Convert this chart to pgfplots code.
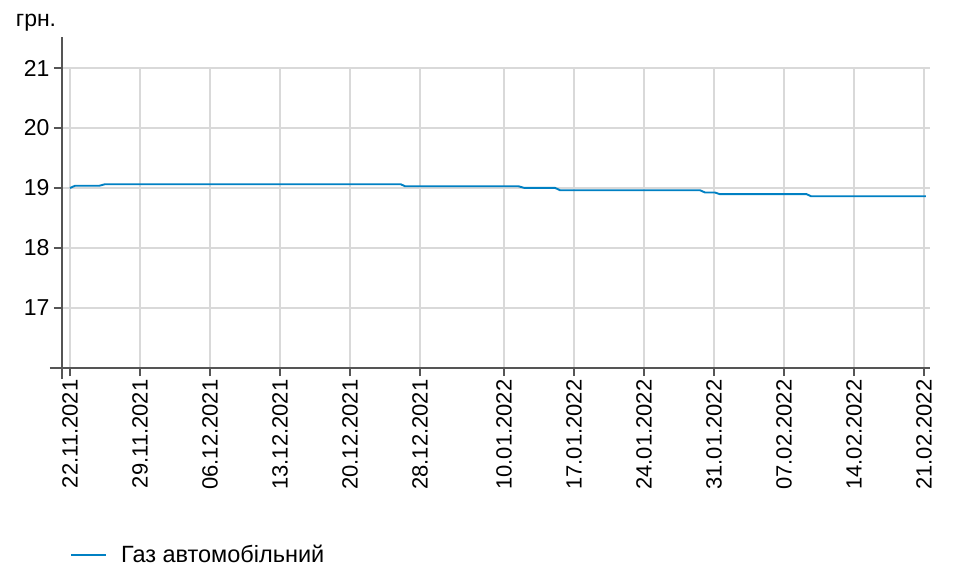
\documentclass[border=0pt]{standalone}
\usepackage{pgfplots}
\pgfplotsset{compat=1.18}
\usepackage{fontspec}
\setmainfont{Liberation Sans}
\definecolor{lineblue}{HTML}{0080C3}
\definecolor{gridgray}{HTML}{D9D9D9}
\definecolor{axisgray}{HTML}{555555}
\begin{document}
\begin{tikzpicture}
\useasboundingbox (0bp,0bp) rectangle (956bp,-582bp);
\begin{axis}[
  at={(62bp,-68bp)}, anchor=north west,
  scale only axis, width=868bp, height=300bp,
  xmin=-0.57, xmax=61.43, ymin=16, ymax=21,
  axis x line=bottom, axis y line=left,
  axis line style={draw=axisgray, line width=1.3bp, -},
  y axis line style={shorten >=-31bp, shorten <=-11bp},
  x axis line style={shorten <=-12bp},
  tick align=outside, major tick length=8bp,
  tick style={draw=axisgray, line width=1.3bp},
  grid=major, major grid style={draw=gridgray, line width=1.3bp},
  /pgf/number format/assume math mode=true,
  y tick label style={font=\fontsize{23bp}{27bp}\selectfont, xshift=-1bp},
  ytick={16,17,18,19,20,21},
  yticklabels={,17,18,19,20,21},
  xtick={0,5,10,15,20,25,31,36,41,46,51,56,61},
  xticklabels={22.11.2021,29.11.2021,06.12.2021,13.12.2021,20.12.2021,28.12.2021,10.01.2022,17.01.2022,24.01.2022,31.01.2022,07.02.2022,14.02.2022,21.02.2022},
  x tick label style={rotate=90, anchor=east, font=\fontsize{22bp}{26bp}\selectfont},
  ylabel={грн.},
  ylabel style={rotate=-90, at={(rel axis cs:0,1)}, anchor=base, xshift=-26bp, yshift=42bp, font=\fontsize{23bp}{27bp}\selectfont},
  legend style={draw=none, fill=none, at={(0,0)}, anchor=west, xshift=8bp, yshift=-187bp, inner xsep=0pt, inner ysep=0pt, font=\fontsize{23.5bp}{28bp}\selectfont},
  legend cell align=left,
  legend image code/.code={\draw[#1] (0bp,0bp) -- (35bp,0bp); \path (47bp,0bp);},
]
\addplot[lineblue, line width=1.9bp] coordinates {
(0,19.00) (0.36,19.037) (2.09,19.037) (2.5,19.063) (23.62,19.063) (23.93,19.03)
(32.02,19.03) (32.43,19.003) (34.64,19.003) (35.0,18.963) (45.0,18.963)
(45.36,18.925) (46.07,18.925) (46.43,18.897) (52.62,18.897) (52.93,18.863) (61.14,18.863)};
\addlegendentry{Газ автомобільний}
\end{axis}
\end{tikzpicture}
\end{document}
